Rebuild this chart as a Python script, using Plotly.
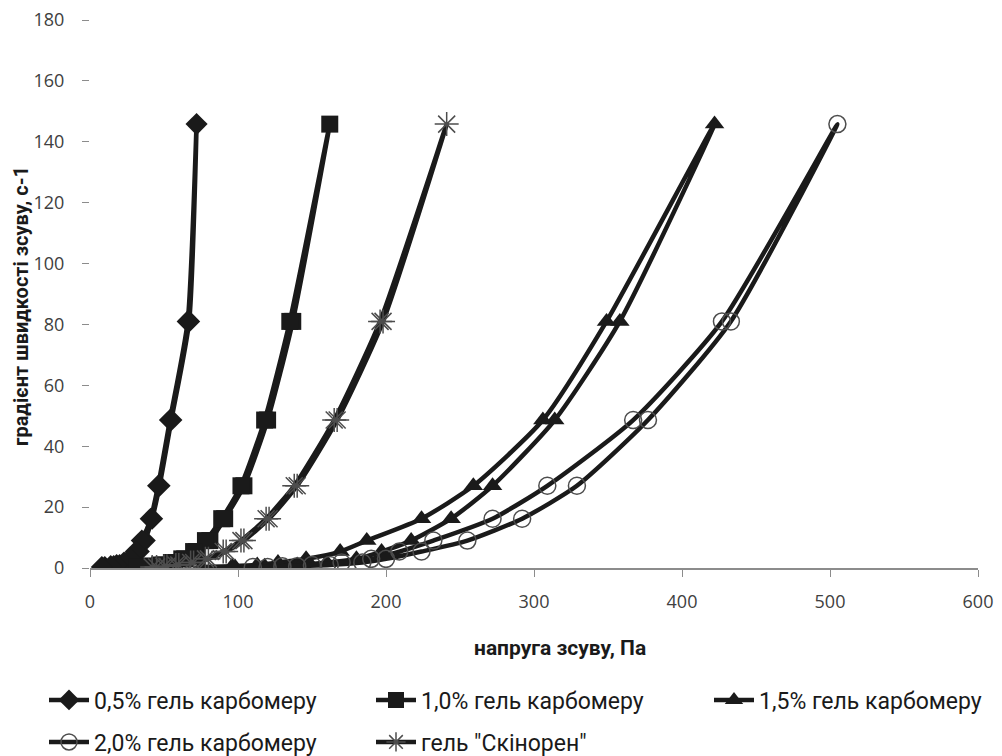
import plotly.graph_objects as go

# shear rate levels (ascending then descending), c-1
rate_up = [0.333, 0.6, 1.0, 1.8, 3.0, 5.4, 9.0, 16.2, 27.0, 48.6, 81.0, 145.8]
rate_down = [81.0, 48.6, 27.0, 16.2, 9.0, 5.4, 3.0, 1.8, 1.0, 0.6, 0.333]
rates = rate_up + rate_down

# shear stress, Pa
stress_05 = [10, 16, 20, 25, 29, 33, 37, 42, 47, 55, 67, 72,
             66, 54, 46, 41, 35, 31, 27, 23, 18, 14, 8]
stress_10 = [35, 42, 50, 57, 64, 72, 81, 91, 104, 120, 137, 162,
             135, 118, 102, 89, 78, 70, 62, 55, 47, 40, 32]
stress_15 = [98, 118, 140, 160, 180, 197, 217, 244, 272, 314, 358, 422,
             349, 306, 259, 224, 187, 169, 146, 127, 113, 96, 75]
stress_20 = [120, 140, 162, 184, 200, 224, 255, 292, 329, 377, 433, 505,
             427, 367, 309, 272, 232, 209, 190, 170, 150, 130, 110]
stress_sk = [45, 52, 60, 70, 80, 92, 104, 121, 140, 167, 198, 241,
             196, 165, 138, 119, 102, 90, 78, 68, 58, 50, 42]

names = ["0,5% гель карбомеру", "1,0% гель карбомеру", "1,5% гель карбомеру",
         "2,0% гель карбомеру", "гель \"Скінорен\""]
x_ticks = [0, 100, 200, 300, 400, 500, 600]
y_ticks = [0, 20, 40, 60, 80, 100, 120, 140, 160, 180]

LINE = "#1a1a1a"
GRAY = "#4d4d4d"

markers = [
    dict(symbol="diamond", size=17, color=LINE),
    dict(symbol="square", size=17, color=LINE),
    dict(symbol="triangle-up", size=17, color=LINE),
    dict(symbol="circle-open", size=17, color=GRAY, line=dict(width=1.5, color=GRAY)),
    dict(symbol="asterisk-open", size=20, color=GRAY, line=dict(width=1.5, color=GRAY)),
]
data = [stress_05, stress_10, stress_15, stress_20, stress_sk]
legend_ids = ["legend", "legend2", "legend3", "legend4", "legend5"]
# legend item anchor positions in pixels (left, vertical centre)
legend_pos = [(44, 700), (371, 700), (709, 700), (44, 742), (371, 742)]

fig = go.Figure()
for xs, nm, mk, lg in zip(data, names, markers, legend_ids):
    fig.add_trace(go.Scatter(
        x=xs, y=rates, name=nm, mode="lines+markers",
        line=dict(color=LINE, width=4.5, shape="spline", smoothing=0.6),
        marker=mk, legend=lg,
    ))

tick_font = dict(family="Open Sans", size=18, color="#404040")
leg_font = dict(family="Roboto", size=23, color="#1a1a1a")

layout_legends = {}
for lg, (px, py) in zip(legend_ids, legend_pos):
    layout_legends[lg] = dict(
        xref="container", yref="container",
        x=px / 1002, y=1 - py / 756, xanchor="left", yanchor="middle",
        font=leg_font, itemwidth=40, bgcolor="rgba(0,0,0,0)",
        borderwidth=0, orientation="h",
    )

fig.update_layout(
    width=1002, height=756,
    margin=dict(l=90, r=24, t=20, b=188, autoexpand=False),
    paper_bgcolor="white", plot_bgcolor="white",
    showlegend=True,
    xaxis=dict(range=[0, 600], tickvals=x_ticks, ticks="outside", ticklen=7,
               tickcolor="#8c8c8c", showline=True, linecolor="#8c8c8c", linewidth=1.5,
               showgrid=False, zeroline=False, tickfont=tick_font,
               ticklabelstandoff=10),
    yaxis=dict(range=[0, 180], tickvals=y_ticks, ticks="outside", ticklen=7,
               tickcolor="#8c8c8c", showline=False, showgrid=False, zeroline=False,
               tickfont=tick_font, ticklabelstandoff=14),
    annotations=[
        dict(text="<b>напруга зсуву, Па</b>", xref="paper", yref="paper",
             x=(560 - 90) / 888, y=(568 - 648) / 548, xanchor="center", yanchor="middle",
             showarrow=False, font=dict(family="Roboto", size=21, color="#1a1a1a")),
        dict(text="<b>градієнт швидкості зсуву, с-1</b>", xref="paper", yref="paper",
             x=(21 - 90) / 888, y=(568 - 306) / 548, xanchor="center", yanchor="middle",
             textangle=-90, showarrow=False,
             font=dict(family="Roboto", size=20, color="#1a1a1a")),
    ],
    **layout_legends,
)

fig.write_html("out.html")
